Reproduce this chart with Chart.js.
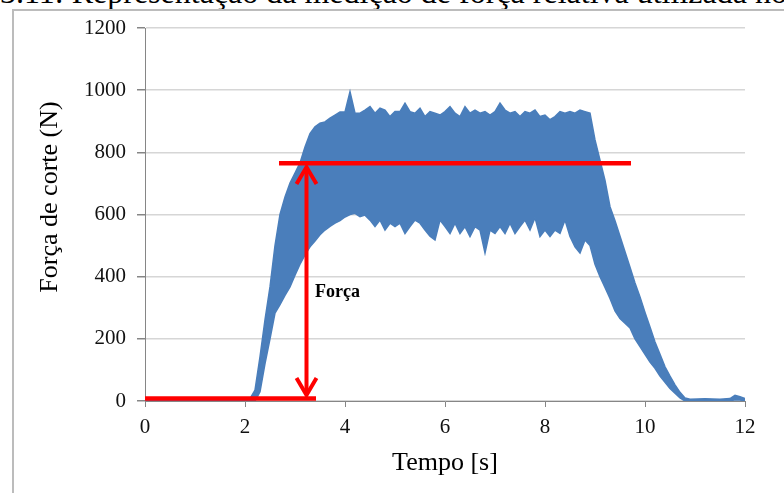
<!DOCTYPE html>
<html lang="pt">
<head>
<meta charset="utf-8">
<title>Força de corte</title>
<script src="https://cdn.jsdelivr.net/npm/chart.js@4.4.1/dist/chart.umd.min.js"></script>
<style>
  html, body { margin: 0; padding: 0; background: #fff; overflow: hidden; }
  #legenda { position: absolute; left: 0; top: -24px; font: 32px/32px 'Liberation Serif', 'Times New Roman', serif; white-space: nowrap; color: #000; }
  #moldura { position: absolute; left: 12px; top: 9px; width: 800px; height: 520px; border-top: 2px solid #bcbcbc; border-left: 2px solid #bcbcbc; }
  #grafico { position: absolute; left: 0; top: 0; }
</style>
</head>
<body>
<div id="legenda">3.11: Representação da medição de força relativa utilizada no</div>
<div id="moldura"></div>
<canvas id="grafico" width="784" height="493"></canvas>
<script>
// ── Dados ──
const tempo = [0, 1, 2,
  2.1, 2.2, 2.3, 2.4, 2.5, 2.6, 2.7, 2.8, 2.9, 3.0,
  3.1, 3.2, 3.3, 3.4, 3.5, 3.6, 3.7, 3.8, 3.9, 4.0,
  4.1, 4.2, 4.3, 4.4, 4.5, 4.6, 4.7, 4.8, 4.9, 5.0,
  5.1, 5.2, 5.3, 5.4, 5.5, 5.6, 5.7, 5.8, 5.9, 6.0,
  6.1, 6.2, 6.3, 6.4, 6.5, 6.6, 6.7, 6.8, 6.9, 7.0,
  7.1, 7.2, 7.3, 7.4, 7.5, 7.6, 7.7, 7.8, 7.9, 8.0,
  8.1, 8.2, 8.3, 8.4, 8.5, 8.6, 8.7, 8.8, 8.9, 9.0,
  9.1, 9.2, 9.3, 9.4, 9.5, 9.6, 9.7, 9.8, 9.9, 10.0,
  10.1, 10.2, 10.3, 10.4, 10.5, 10.6, 10.7, 10.8, 10.9,
  11.2, 11.5, 11.7, 11.8, 11.9, 12];

// envelope superior do sinal (N)
const forcaMax = [6, 5, 6,
  8, 35, 142, 261, 367, 500, 600, 656, 701, 733,
  766, 817, 860, 882, 894, 898, 910, 920, 930, 930,
  995, 926, 926, 936, 947, 926, 942, 936, 915, 931,
  931, 958, 931, 926, 942, 915, 931, 926, 920, 931,
  947, 926, 915, 947, 926, 936, 926, 931, 920, 931,
  958, 936, 926, 931, 915, 931, 926, 936, 915, 920,
  905, 915, 931, 926, 931, 926, 936, 931, 926, 840,
  775, 710, 625, 580, 530, 480, 430, 380, 335, 285,
  238, 190, 150, 110, 80, 52, 28, 10, 6,
  7, 6, 8, 18, 14, 8];

// envelope inferior do sinal (N)
const forcaMin = [0, 0, 0,
  0, 0, 30, 120, 200, 283, 310, 340, 367, 405,
  440, 470, 496, 515, 535, 550, 562, 572, 580, 592,
  600, 604, 593, 598, 582, 561, 582, 550, 572, 561,
  572, 539, 561, 582, 572, 550, 530, 518, 582, 561,
  539, 572, 539, 561, 529, 561, 550, 476, 550, 539,
  561, 539, 572, 539, 561, 582, 550, 590, 529, 550,
  529, 550, 539, 582, 529, 496, 476, 518, 500, 440,
  400, 365, 330, 290, 265, 250, 235, 200, 175, 150,
  125, 105, 80, 60, 40, 25, 10, 0, 0,
  0, 0, 0, 4, 3, 0];

const ticksX = [0, 2, 4, 6, 8, 10, 12];
const ticksY = [0, 200, 400, 600, 800, 1000, 1200];

// ── Anotações em vermelho ──
const nivelForca = 765;
const nivelZero = 8;
const linhaSuperiorX = [2.68, 9.72];
const linhaInferiorX = [0, 3.42];
const setaX = 3.23;
const setaTopo = 759;
const setaBase = 13;
const rotuloForca = 'Força';
const rotuloPos = [3.4, 348];

const AZUL = '#4a7ebb';
const VERMELHO = '#ff0000';

Chart.defaults.font.family = "'Liberation Serif', 'Times New Roman', serif";

const anotacoes = {
  id: 'anotacoes',
  afterDatasetsDraw(chart) {
    const { ctx, scales: { x, y } } = chart;
    const px = x.getPixelForValue(setaX);
    const topo = y.getPixelForValue(setaTopo);
    const base = y.getPixelForValue(setaBase);
    ctx.save();
    ctx.strokeStyle = VERMELHO;
    ctx.lineWidth = 4;
    ctx.beginPath();
    ctx.moveTo(px, topo + 2);
    ctx.lineTo(px, base - 2);
    ctx.stroke();
    ctx.beginPath();
    ctx.moveTo(px - 10, topo + 19);
    ctx.lineTo(px, topo + 2);
    ctx.lineTo(px + 10, topo + 19);
    ctx.moveTo(px - 10, base - 19);
    ctx.lineTo(px, base - 2);
    ctx.lineTo(px + 10, base - 19);
    ctx.stroke();

    ctx.fillStyle = '#000';
    ctx.font = "bold 18px 'Liberation Serif', serif";
    ctx.textBaseline = 'middle';
    ctx.fillText(rotuloForca, x.getPixelForValue(rotuloPos[0]), y.getPixelForValue(rotuloPos[1]));
    ctx.restore();
  },
  afterDraw(chart) {
    const { ctx, chartArea } = chart;
    ctx.save();
    ctx.fillStyle = '#000';
    ctx.font = "26px 'Liberation Serif', serif";
    ctx.textAlign = 'center';
    ctx.textBaseline = 'middle';
    ctx.fillText('Tempo [s]', (chartArea.left + chartArea.right) / 2, 463);
    ctx.translate(50, 197);
    ctx.rotate(-Math.PI / 2);
    ctx.fillText('Força de corte (N)', 0, 0);
    ctx.restore();
  }
};

new Chart(document.getElementById('grafico'), {
  type: 'line',
  data: {
    datasets: [
      {
        data: linhaSuperiorX.map(v => ({ x: v, y: nivelForca })),
        borderColor: VERMELHO, borderWidth: 4.5, pointRadius: 0, fill: false, order: 0
      },
      {
        data: linhaInferiorX.map(v => ({ x: v, y: nivelZero })),
        borderColor: VERMELHO, borderWidth: 4.5, pointRadius: 0, fill: false, order: 0
      },
      {
        data: tempo.map((t, i) => ({ x: t, y: forcaMax[i] })),
        borderColor: AZUL, backgroundColor: AZUL, borderWidth: 1.5,
        pointRadius: 0, fill: '+1', order: 1
      },
      {
        data: tempo.map((t, i) => ({ x: t, y: forcaMin[i] })),
        borderColor: AZUL, borderWidth: 1.5, pointRadius: 0, fill: false, order: 2
      }
    ]
  },
  options: {
    responsive: false,
    animation: false,
    devicePixelRatio: 1,
    layout: { padding: { left: 0, top: 28, right: 39, bottom: 0 } },
    plugins: { legend: { display: false }, tooltip: { enabled: false } },
    scales: {
      x: {
        type: 'linear', min: 0, max: 12,
        afterFit: s => { s.height = 92; },
        afterBuildTicks: s => { s.ticks = ticksX.map(v => ({ value: v })); },
        border: { color: '#868686', width: 1 },
        grid: { drawOnChartArea: false, drawTicks: true, tickLength: 6, tickColor: '#868686' },
        ticks: { color: '#111', font: { size: 21 }, padding: 8, maxRotation: 0, callback: v => String(v) }
      },
      y: {
        type: 'linear', min: 0, max: 1200,
        afterFit: s => { s.width = 145; },
        afterBuildTicks: s => { s.ticks = ticksY.map(v => ({ value: v })); },
        border: { color: '#868686', width: 1 },
        grid: { color: '#d6d6d6', lineWidth: 1.5, tickLength: 8, tickColor: '#868686' },
        ticks: { color: '#111', font: { size: 21 }, padding: 11, callback: v => String(v) }
      }
    }
  },
  plugins: [anotacoes]
});
</script>
</body>
</html>
